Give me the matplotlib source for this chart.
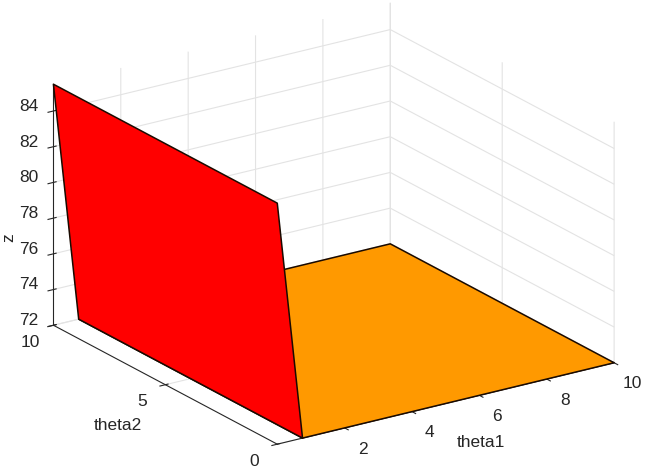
import matplotlib
matplotlib.use('Agg')
import matplotlib.pyplot as plt
import matplotlib.colors as mcolors
from mpl_toolkits.mplot3d import proj3d
import numpy as np

# ---------------------------------------------------------------
# Data
# ---------------------------------------------------------------

theta1 = [0.0, 0.75, 10.0]
theta2 = [0.0, 10.0]

# z values, one row per theta2 value
z_rows = [
  [85.5, 72.0, 72.0],
  [85.5, 72.0, 72.0],
]

face_colors = ['#ff0000', '#ff9900']

xticks = [2, 4, 6, 8, 10]
yticks = [0, 5, 10]
zticks = [72, 74, 76, 78, 80, 82, 84]

# ---------------------------------------------------------------
# Style
# ---------------------------------------------------------------

text_color = '#262626'

plt.rcParams['font.family']    = ['Liberation Sans', 'DejaVu Sans']
plt.rcParams['font.size']      = 12.5
plt.rcParams['grid.color']     = '#e3e3e3'
plt.rcParams['grid.linewidth'] = 0.8
plt.rcParams['axes.edgecolor'] = text_color
plt.rcParams['xtick.color']    = text_color
plt.rcParams['ytick.color']    = text_color
plt.rcParams['axes.labelcolor'] = text_color

# ---------------------------------------------------------------
# Plot
# ---------------------------------------------------------------

fig = plt.figure(figsize=(6.47, 4.73), dpi=100)
ax  = fig.add_axes([0.006, 0.014, 1.0, 1.0], projection='3d', proj_type='ortho')

X, Y = np.meshgrid(theta1, theta2)
Z    = np.array(z_rows)

fc = np.zeros(Z.shape + (4,))
for j in range(Z.shape[1]):
  fc[:, j] = mcolors.to_rgba(face_colors[min(j, len(face_colors)-1)])

surf = ax.plot_surface(X, Y, Z, facecolors=fc, shade=False, rstride=1, cstride=1,
                       edgecolor='#1a0a00', linewidth=1.1, antialiased=True)
surf.set_clip_on(False)

xmin, xmax = theta1[0], theta1[-1]
ymin, ymax = theta2[0], theta2[-1]
zmin, zmax = 72, 85.5

ax.set_xlim(xmin, xmax)
ax.set_ylim(ymin, ymax)
ax.set_zlim(zmin, zmax)

ax.set_xticks(xticks)
ax.set_yticks(yticks)
ax.set_zticks(zticks)

# Tick labels are drawn below as horizontal text
ax.set_xticklabels([])
ax.set_yticklabels([])
ax.set_zticklabels([])

for axis in (ax.xaxis, ax.yaxis, ax.zaxis):
  axis.set_pane_color((1, 1, 1, 0))
  axis.line.set_color(text_color)
  axis.line.set_linewidth(0.8)

ax.tick_params(colors=text_color)

ax.view_init(elev=21, azim=-124)
ax.set_box_aspect((1.015, 1, 0.645), zoom=1.285)

# Project label anchor points once the layout is fixed
fig.canvas.draw()
M = ax.get_proj()

def label_at(x, y, z, s, **kw):
  px, py, _ = proj3d.proj_transform(x, y, z, M)
  ax.text2D(px, py, s, transform=ax.transData, color=text_color,
            va='center', **kw)

for t in xticks:
  label_at(t, ymin - 0.8, zmin - 0.65, str(t), ha='center')
for t in yticks:
  label_at(xmin - 0.7, t, zmin - 0.64, str(t), ha='center')
for t in zticks:
  label_at(xmin - 0.45, ymax, t + 0.46, str(t), ha='right')

# Axis labels stay horizontal
fig.text(481/647, 1-442/473, 'theta1', ha='center', va='center', color=text_color)
fig.text(118/647, 1-425/473, 'theta2', ha='center', va='center', color=text_color)
fig.text(9/647, 1-238/473, 'z', ha='center', va='center', rotation=90, color=text_color)

fig.savefig('out.png', dpi=100)
